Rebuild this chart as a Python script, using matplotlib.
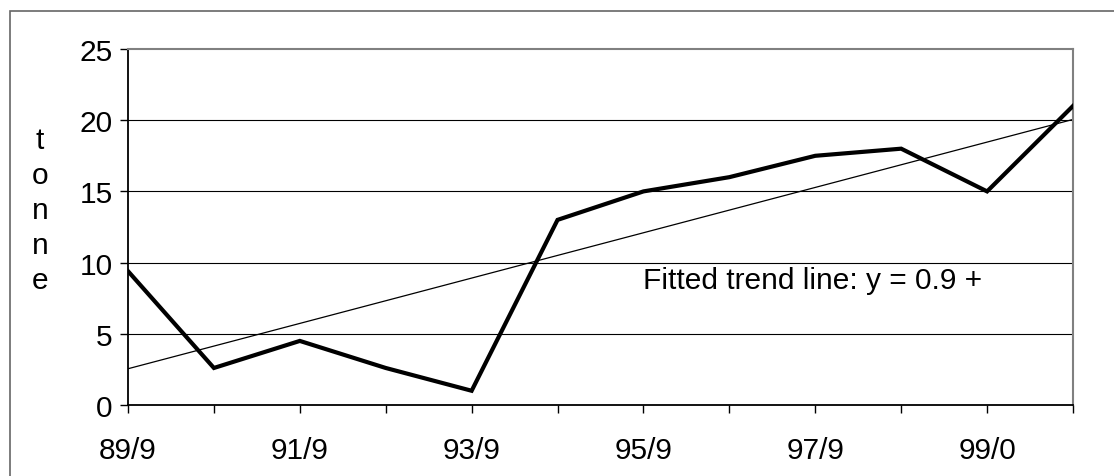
import numpy as np
import matplotlib
matplotlib.use('Agg')
import matplotlib.pyplot as plt
from matplotlib.patches import Rectangle

plt.rcParams['font.family'] = ['Liberation Sans', 'DejaVu Sans']

# data
periods = ['89/9', '90/9', '91/9', '92/9', '93/9', '94/9', '95/9', '96/9', '97/9', '98/9', '99/0', '00/0']
tonnes = [9.4, 2.6, 4.5, 2.6, 1.0, 13.0, 15.0, 16.0, 17.5, 18.0, 15.0, 21.0]
yticks = [0, 5, 10, 15, 20, 25]
trend_text = 'Fitted trend line: y = 0.9 +'

x = np.arange(len(periods))
k, b = np.polyfit(x, tonnes, 1)

fs = 21.5
fig = plt.figure(figsize=(11.14, 4.77), dpi=100)
ax = fig.add_axes([128/1114, 1 - 406/477, (1073 - 128)/1114, (406 - 50)/477])

# outer frame (cut off at right and bottom)
fig.patches.append(Rectangle((10/1114, -0.1), 1.2, 1 - 12/477 + 0.1, transform=fig.transFigure,
                             fill=False, edgecolor='#666666', linewidth=1.2))

for yv in yticks[1:-1]:
    ax.axhline(yv, color='black', linewidth=0.8, zorder=1)

ax.plot(x, tonnes, color='black', linewidth=3.0, solid_joinstyle='miter', zorder=3)
ax.plot(x, k * x + b, color='black', linewidth=0.9, zorder=2)

ax.text(6.0, 8.8, trend_text, fontsize=fs, ha='left', va='center')

ax.set_xlim(0, 11)
ax.set_ylim(0, 25)
ax.set_yticks(yticks)
ax.set_xticks(x)
ax.set_xticklabels([p if i % 2 == 0 else '' for i, p in enumerate(periods)])
ax.tick_params(axis='both', labelsize=fs, direction='out', length=6, width=1, color='black')
ax.tick_params(axis='x', pad=16)
ax.tick_params(axis='y', pad=5)

for s in ['top', 'right']:
    ax.spines[s].set_color('#808080')
    ax.spines[s].set_linewidth(1.5)
for s in ['left', 'bottom']:
    ax.spines[s].set_color('black')
    ax.spines[s].set_linewidth(1.3)

fig.text(40/1114, 1 - 211/477, 't\no\nn\nn\ne', fontsize=fs, ha='center', va='center',
         linespacing=1.32)

fig.savefig('out.png', dpi=100)
